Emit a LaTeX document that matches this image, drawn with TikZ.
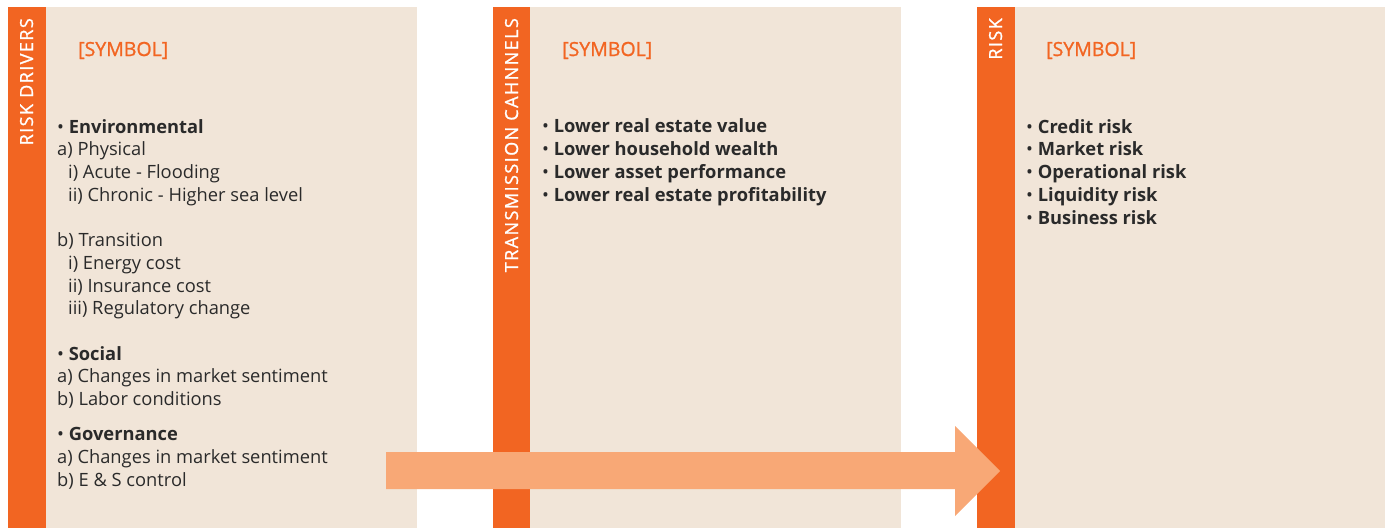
\documentclass[tikz,border=0pt]{standalone}
\usepackage{fontspec}
\setmainfont{Open Sans}
\usetikzlibrary{positioning}

\definecolor{barorange}{HTML}{F26522}
\definecolor{panelbeige}{HTML}{F1E5D8}
\definecolor{arroworange}{HTML}{F8A876}
\definecolor{textdark}{HTML}{2A2A2A}

\tikzset{
	bartitle/.style={rotate=90, anchor=base east, inner sep=0pt, text=white, font=\fontsize{18}{20}\selectfont\addfontfeatures{LetterSpace=8, FakeBold=1.2}},
	symboltext/.style={anchor=base west, inner sep=0pt, text=barorange, font=\fontsize{19.5}{22}\selectfont\addfontfeatures{FakeBold=1.2}},
	% base anchor of these lists is the baseline of their last line
	listtext/.style={anchor=base west, inner sep=0pt, align=left, text=textdark, font=\fontsize{18.3}{22.7}\selectfont}
}
\newcommand{\ind}{\hspace*{11pt}}

\begin{document}
\begin{tikzpicture}[x=1pt, y=-1pt]
	%%%%% START %%%%%
	\useasboundingbox (0, 0) rectangle (1389, 528);
	
	% panels
	\fill[panelbeige] (46, 7) rectangle (417, 528);
	\fill[barorange] (8, 7) rectangle (46, 528);
	\fill[panelbeige] (530, 7) rectangle (901, 528);
	\fill[barorange] (493, 7) rectangle (530, 528);
	\fill[panelbeige] (1015, 7) rectangle (1385, 528);
	\fill[barorange] (977, 7) rectangle (1015, 528);
	
	% titles
	\node[bartitle] (drivers) at (33, 18) {RISK DRIVERS};
	\node[bartitle] (channels) at (518, 18) {TRANSMISSION CAHNNELS};
	\node[bartitle] (risk) at (1002, 18) {RISK};
	
	\node[symboltext] (drivers symbol) at (78, 56) {[SYMBOL]};
	\node[symboltext] (channels symbol) at (562, 56) {[SYMBOL]};
	\node[symboltext] (risk symbol) at (1046, 56) {[SYMBOL]};
	
	% lists
	\node[listtext] (drivers list) at (57, 486) {
		\textbullet\ \textbf{Environmental}\\
		a) Physical\\
		\ind i) Acute - Flooding\\
		\ind ii) Chronic - Higher sea level\\[22.7pt]
		b) Transition\\
		\ind i) Energy cost\\
		\ind ii) Insurance cost\\
		\ind iii) Regulatory change\\[22.7pt]
		\textbullet\ \textbf{Social}\\
		a) Changes in market sentiment\\
		b) Labor conditions\\[12.3pt]
		\textbullet\ \textbf{Governance}\\
		a) Changes in market sentiment\\
		b) E \& S control};
	\node[listtext] (channels list) at (542, 201) {
		\textbullet\ \textbf{Lower real estate value}\\
		\textbullet\ \textbf{Lower household wealth}\\
		\textbullet\ \textbf{Lower asset performance}\\
		\textbullet\ \textbf{Lower real estate profitability}};
	\node[listtext] (risk list) at (1026, 224) {
		\textbullet\ \textbf{Credit risk}\\
		\textbullet\ \textbf{Market risk}\\
		\textbullet\ \textbf{Operational risk}\\
		\textbullet\ \textbf{Liquidity risk}\\
		\textbullet\ \textbf{Business risk}};
	
	% arrow
	\fill[arroworange] (386, 452) -- (955, 452) -- (955, 426) -- (1000, 471)
		-- (955, 516) -- (955, 489) -- (386, 489) -- cycle;
	%%%%% END %%%%%
\end{tikzpicture}
\end{document}
